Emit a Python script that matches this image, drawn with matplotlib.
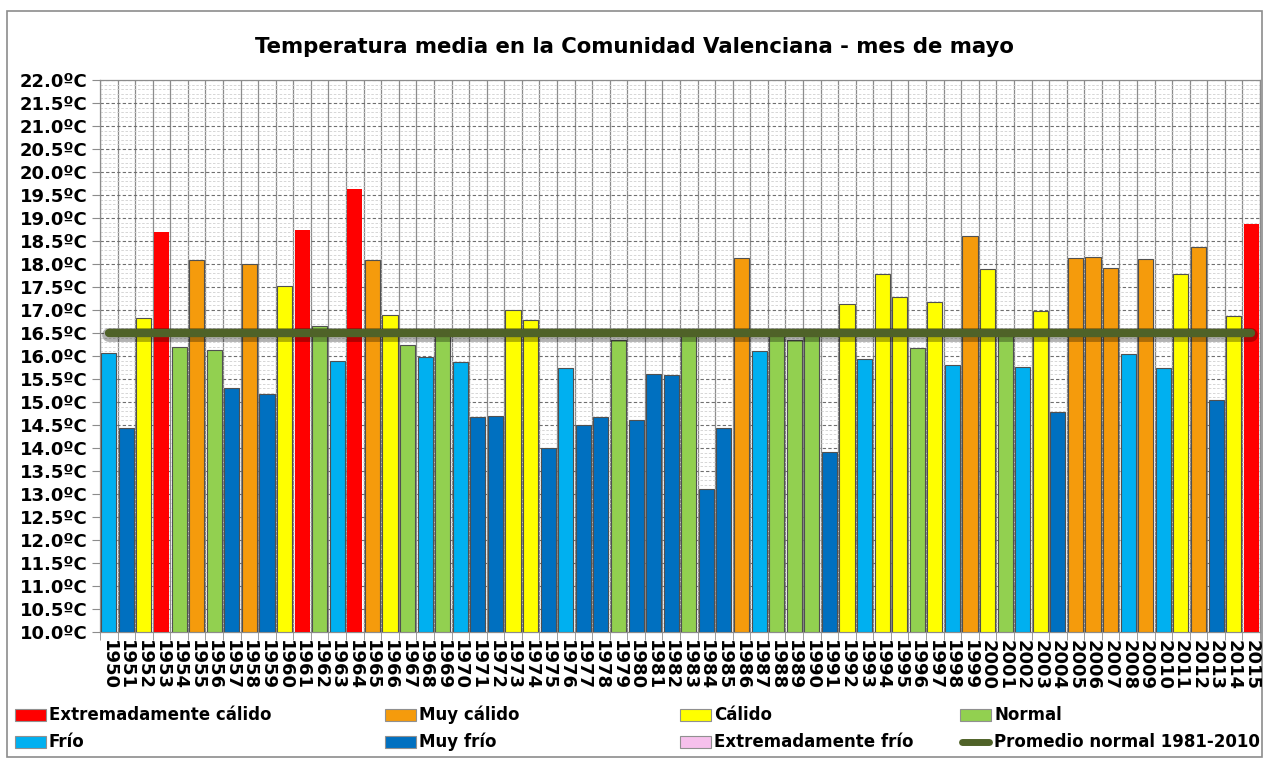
import matplotlib
matplotlib.use("Agg")
import matplotlib.pyplot as plt
import matplotlib.patheffects as pe
from matplotlib.patches import Rectangle
from matplotlib.lines import Line2D
from matplotlib.ticker import MultipleLocator, FuncFormatter
import numpy as np

years = list(range(1950, 2016))
temps = [16.06, 14.43, 16.82, 18.69, 16.20, 18.09, 16.14, 15.30, 17.99, 15.17,
         17.53, 18.75, 16.66, 15.89, 19.63, 18.09, 16.89, 16.25, 15.98, 16.47,
         15.88, 14.67, 14.69, 16.99, 16.78, 14.01, 15.75, 14.49, 14.67, 16.35,
         14.60, 15.60, 15.58, 16.45, 13.10, 14.44, 18.12, 16.10, 16.48, 16.35,
         16.59, 13.92, 17.14, 15.94, 17.78, 17.28, 16.17, 17.17, 15.80, 18.61,
         17.90, 16.57, 15.77, 16.97, 14.79, 18.12, 18.15, 17.92, 16.04, 18.11,
         15.73, 17.78, 18.38, 15.04, 16.88, 18.87]
classes = ["F", "MF", "C", "EC", "N", "MC", "N", "MF", "MC", "MF",
           "C", "EC", "N", "F", "EC", "MC", "C", "N", "F", "N",
           "F", "MF", "MF", "C", "C", "MF", "F", "MF", "MF", "N",
           "MF", "MF", "MF", "N", "MF", "MF", "MC", "F", "N", "N",
           "N", "MF", "C", "F", "C", "C", "N", "C", "F", "MC",
           "C", "N", "F", "C", "MF", "MC", "MC", "MC", "F", "MC",
           "F", "C", "MC", "MF", "C", "EC"]
normal_mean = 16.5

class_codes = ["EC", "MC", "C", "N", "F", "MF", "EF"]
class_labels = ["Extremadamente cálido", "Muy cálido", "Cálido", "Normal",
                "Frío", "Muy frío", "Extremadamente frío"]
class_colors = {"EC": "#FF0000", "MC": "#F59B0C", "C": "#FFFF00", "N": "#92D050",
                "F": "#00B0F0", "MF": "#0070C0", "EF": "#F6C0EC"}
mean_label = "Promedio normal 1981-2010"
mean_color = "#4F6228"
title = "Temperatura media en la Comunidad Valenciana - mes de mayo"

W, H = 1268, 763
fig = plt.figure(figsize=(W / 100, H / 100), dpi=100)
fig.patch.set_facecolor("white")

# figure frame
fig.add_artist(Rectangle((7 / W, 1 - 757 / H), (1262 - 7) / W, (757 - 11) / H,
                         transform=fig.transFigure, fill=False,
                         edgecolor="#8c8c8c", linewidth=1.2, zorder=0))

ax = fig.add_axes([100 / W, 1 - 632 / H, (1260 - 100) / W, (632 - 80) / H])
ax.set_facecolor("none")

x = np.arange(len(years))
cols = [class_colors[c] for c in classes]
edges = ["none" if c == "EC" else "#505050" for c in classes]
ax.bar(x, [t - 10.0 for t in temps], bottom=10.0, width=0.86, color=cols,
       edgecolor=edges, linewidth=0.8, zorder=3)

ax.plot([x[0], x[-1]], [normal_mean, normal_mean], color=mean_color, linewidth=6,
        solid_capstyle="round", zorder=4,
        path_effects=[pe.SimpleLineShadow(offset=(0, -1.5), shadow_color="black",
                                          alpha=0.3, linewidth=10),
                      pe.Normal()])

ax.set_xlim(-0.5, len(years) - 0.5)
ax.set_ylim(10.0, 22.0)

ax.yaxis.set_major_locator(MultipleLocator(0.5))
ax.yaxis.set_minor_locator(MultipleLocator(0.1))
ax.yaxis.set_major_formatter(FuncFormatter(lambda v, p: f"{v:.1f}ºC"))
ax.set_xticks(x)
ax.set_xticklabels([str(y) for y in years], rotation=270, fontsize=13,
                   fontweight="bold")
ax.set_xticks(np.arange(-0.5, len(years), 1.0), minor=True)

ax.grid(which="major", axis="y", color="#6f6f6f", linestyle=(0, (3, 2)),
        linewidth=0.8, zorder=1)
ax.grid(which="minor", axis="y", color="#d0d0d0", linestyle=(0, (3, 2)),
        linewidth=0.6, zorder=1)
ax.grid(which="minor", axis="x", color="#8c8c8c", linestyle="-",
        linewidth=0.9, zorder=1)
ax.set_axisbelow(True)

ax.tick_params(axis="y", which="major", labelsize=13, length=6, color="#8c8c8c",
               pad=3)
ax.tick_params(axis="y", which="minor", length=0)
ax.tick_params(axis="x", which="major", length=0, pad=6)
ax.tick_params(axis="x", which="minor", length=6, color="#8c8c8c")
for lab in ax.get_yticklabels():
    lab.set_fontweight("bold")
for s in ax.spines.values():
    s.set_color("#8c8c8c")
    s.set_linewidth(0.9)

fig.text(0.5, 1 - 47 / H, title, ha="center", va="center", fontsize=15.3,
         fontweight="bold")

# legend
col_x = [15, 385, 680, 960]
row_y = [715, 742]
entries = list(zip(class_codes, class_labels)) + [(None, mean_label)]
for i, (code, label) in enumerate(entries):
    r, c = divmod(i, 4)
    px, py = col_x[c], row_y[r]
    if code is not None:
        fig.add_artist(Rectangle((px / W, 1 - (py + 6) / H), 31 / W, 12 / H,
                                 transform=fig.transFigure,
                                 facecolor=class_colors[code],
                                 edgecolor="#909090", linewidth=0.8))
    else:
        fig.add_artist(Line2D([(px + 2) / W, (px + 29) / W], [1 - py / H, 1 - py / H],
                              transform=fig.transFigure, color=mean_color,
                              linewidth=5, solid_capstyle="round"))
    fig.text((px + 34) / W, 1 - py / H, label, ha="left", va="center",
             fontsize=12, fontweight="bold")

fig.savefig("out.png", dpi=100)
